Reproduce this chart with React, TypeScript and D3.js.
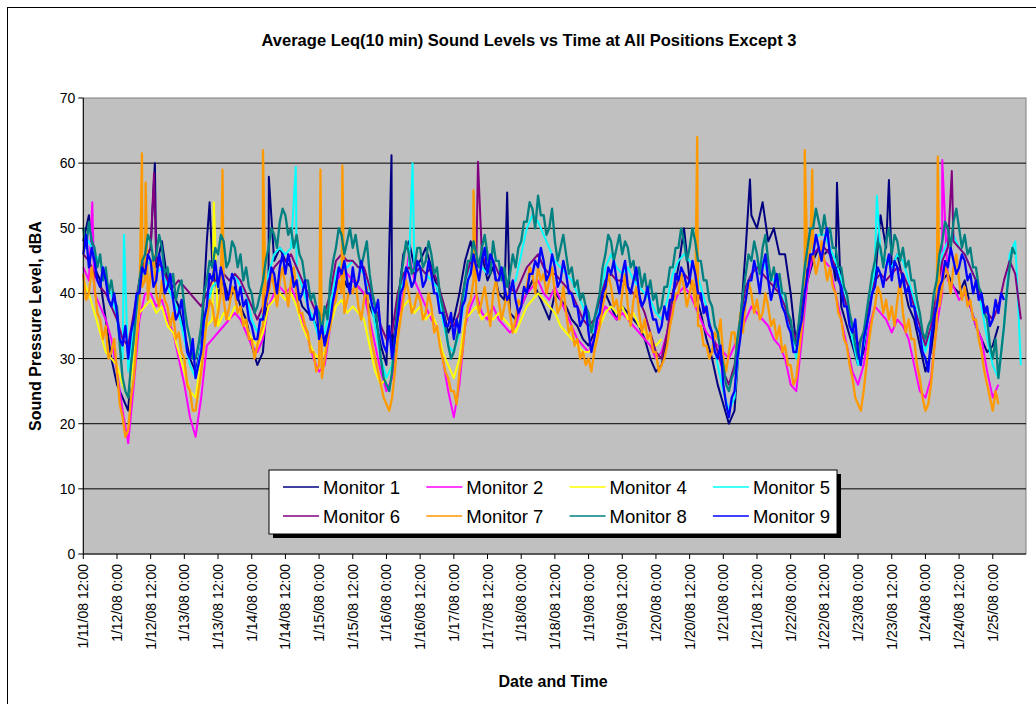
import React from "react";
import * as d3 from "d3";

// Samples start at 1/11/08 12:00.
// Monitors 1-6 are sampled every 2 hours, 7-9 every hour.
const START = new Date(2008, 0, 11, 12, 0);
const END = new Date(2008, 0, 25, 11, 50);

const monitorNames = ["Monitor 1", "Monitor 2", "Monitor 4", "Monitor 5", "Monitor 6", "Monitor 7", "Monitor 8", "Monitor 9"];
const monitorColors = ["#000080", "#FF00FF", "#FFFF00", "#00FFFF", "#800080", "#FF9900", "#008080", "#0000FF"];
const stepHours = [2, 2, 2, 2, 2, 1, 1, 1];
const yTicks = [0, 10, 20, 30, 40, 50, 60, 70];

const m1 = [
  48, 52, 44, 42, 36, 30, 26, 24, 22, 35, 42, 45,
  47, 44, 48, 42, 40, 38, 34, 30, 28, 32, 48, 44,
  40, 42, 39, 41, 38, 36, 32, 29, 31, 42, 45, 47,
  45, 44, 41, 38, 37, 36, 34, 33, 35, 42, 43, 41,
  42, 41, 40, 38, 36, 32, 29, 31, 38, 46, 48, 44,
  45, 47, 44, 41, 38, 34, 36, 40, 45, 48, 44, 46,
  42, 44, 40, 39, 37, 36, 38, 40, 42, 40, 38, 36,
  40, 39, 38, 36, 35, 33, 32, 34, 38, 40, 38, 36,
  38, 37, 36, 35, 33, 30, 28, 29, 33, 40, 44, 50,
  42, 40, 37, 33, 30, 26, 23, 20, 22, 35, 47, 52,
  50, 54, 48, 50, 46, 46, 40, 32, 35, 42, 45, 47,
  46, 47, 42, 38, 35, 32, 29, 31, 38, 42, 52, 47,
  44, 46, 42, 38, 36, 32, 28, 31, 38, 42, 43, 41,
  40, 42, 38, 35, 33, 31, 32, 35,
];
const m2 = [
  44, 42, 40, 38, 36, 33, 28, 22, 17, 26, 36, 40,
  40, 38, 39, 36, 34, 30, 26, 21, 18, 24, 32, 33,
  34, 35, 36, 37, 36, 34, 32, 31, 33, 38, 40, 41,
  40, 41, 39, 36, 33, 30, 28, 29, 35, 41, 44, 43,
  42, 41, 40, 36, 32, 28, 25, 27, 35, 40, 46, 42,
  40, 38, 36, 35, 30, 25, 21, 26, 35, 38, 40, 37,
  36, 38, 36, 35, 34, 35, 38, 40, 41, 42, 40, 39,
  41, 39, 37, 35, 33, 32, 31, 33, 36, 38, 37, 36,
  37, 36, 35, 34, 33, 32, 30, 31, 34, 38, 40, 41,
  40, 38, 36, 34, 33, 32, 31, 30, 32, 34, 36, 38,
  37, 36, 35, 33, 32, 30, 26, 25, 33, 42, 46, 47,
  45, 44, 40, 36, 32, 28, 26, 29, 35, 38, 37, 36,
  34, 36, 35, 33, 29, 25, 24, 27, 35, 40, 42, 41,
  39, 40, 38, 35, 33, 28, 24, 26,
];
const m4 = [
  42, 40, 37, 34, 31, 30, 29, 26, 24, 30, 37, 38,
  39, 37, 38, 35, 34, 31, 28, 25, 24, 30, 35, 36,
  35, 37, 36, 38, 37, 35, 33, 32, 34, 38, 39, 40,
  39, 40, 38, 35, 33, 31, 30, 31, 35, 38, 39, 37,
  38, 37, 36, 32, 28, 26, 27, 29, 35, 38, 39, 37,
  38, 36, 37, 35, 31, 29, 27, 30, 36, 37, 38, 36,
  37, 36, 37, 36, 35, 34, 36, 38, 39, 40, 39, 38,
  37, 35, 34, 33, 32, 31, 31, 32, 35, 37, 38, 37,
  38, 36, 37, 35, 34, 33, 32, 33,
];
const m5 = [
  49, 48, 46, 45, 42, 40, 36, 30, 28, 35, 41, 44,
  45, 43, 44, 41, 39, 37, 33, 29, 27, 32, 38, 41,
  42, 43, 42, 43, 41, 40, 36, 34, 37, 43, 46, 47,
  46, 47, 44, 41, 38, 36, 33, 34, 38, 43, 45, 44,
  45, 44, 43, 40, 35, 30, 27, 29, 37, 43, 44, 43,
  44, 43, 42, 41, 36, 32, 31, 34, 40, 44, 45, 44,
  43, 45, 43, 42, 41, 42, 46, 50, 52, 51, 49, 47,
  45, 44, 43, 42, 40, 38, 35, 34, 38, 44, 46, 44,
  43, 44, 42, 41, 40, 39, 37, 36, 39, 43, 45, 46,
  45, 44, 41, 38, 34, 29, 25, 22, 24, 34, 41, 43,
  44, 45, 43, 42, 41, 38, 34, 30, 38, 45, 48, 49,
  49, 47, 45, 42, 38, 33, 29, 32, 38, 44, 46, 45,
  44, 46, 45, 42, 39, 35, 31, 34, 40, 46, 48, 49,
  47, 46, 44, 42, 38, 33, 29, 27, 35, 46, 48, 29,
];
const m6 = [
  46, 45, 43, 41, 40, 38, 36, 33, 32, 37, 42, 45,
  47, 45, 44, 42, 41, 42, 41, 40, 39, 38, 40, 42,
  42, 43, 42, 43, 42, 40, 38, 36, 38, 42, 44, 45,
  45, 46, 44, 42, 40, 38, 36, 37, 40, 45, 46, 45,
  45, 44, 44, 41, 38, 35, 33, 34, 40, 43, 44, 43,
  44, 43, 44, 42, 39, 36, 35, 37, 42, 45, 44, 46,
  44, 45, 43, 42, 41, 40, 42, 44, 45, 46, 44, 43,
  43, 42, 41, 40, 38, 36, 35, 36, 39, 42, 43, 42,
  42, 41, 40, 39, 37, 34, 31, 30, 34, 40, 42, 43,
  42, 41, 39, 37, 34, 31, 28, 26, 29, 36, 41, 43,
  44, 43, 42, 41, 40, 38, 35, 33, 38, 44, 46, 47,
  47, 46, 44, 41, 38, 35, 32, 34, 38, 42, 43, 42,
  43, 44, 43, 41, 38, 35, 32, 35, 40, 45, 47, 48,
  47, 46, 44, 42, 39, 37, 36, 38, 42, 45, 43, 36,
];
const m7 = [
  43, 39, 40, 44, 41, 37, 36, 33, 35, 30, 31, 33, 28, 23, 21, 18, 19, 24, 27, 33, 38, 41, 42, 39,
  43, 46, 40, 38, 42, 39, 38, 35, 37, 33, 34, 31, 30, 26, 25, 22, 22, 25, 28, 32, 36, 39, 38, 35,
  37, 40, 39, 36, 38, 41, 40, 37, 38, 35, 36, 33, 33, 30, 32, 34, 35, 38, 40, 43, 41, 38, 42, 44,
  41, 38, 42, 44, 40, 37, 37, 35, 34, 31, 31, 28, 29, 27, 30, 33, 35, 38, 39, 42, 40, 37, 39, 41,
  40, 42, 38, 36, 39, 41, 35, 32, 30, 28, 26, 24, 23, 22, 24, 28, 33, 36, 39, 42, 40, 37, 38, 40,
  39, 36, 37, 40, 38, 34, 35, 32, 30, 28, 27, 25, 25, 23, 28, 31, 35, 38, 39, 42, 40, 37, 39, 41,
  38, 35, 40, 42, 39, 36, 38, 40, 37, 34, 36, 39, 38, 41, 41, 44, 43, 40, 44, 42, 43, 40, 42, 44,
  40, 37, 38, 41, 37, 34, 35, 32, 33, 30, 31, 29, 30, 28, 31, 33, 35, 38, 40, 43, 41, 38, 39, 36,
  40, 43, 38, 35, 39, 41, 37, 34, 36, 33, 34, 31, 31, 28, 29, 30, 32, 35, 37, 40, 40, 43, 41, 38,
  40, 42, 38, 35, 35, 32, 32, 30, 31, 34, 33, 36, 30, 28, 31, 34, 34, 30, 37, 34, 39, 42, 40, 37,
  39, 36, 37, 40, 38, 35, 36, 33, 35, 31, 32, 29, 29, 26, 27, 31, 35, 40, 44, 47, 46, 43, 45, 48,
  45, 42, 44, 41, 40, 37, 36, 33, 32, 29, 27, 24, 23, 22, 25, 29, 33, 36, 38, 41, 40, 37, 39, 36,
  38, 35, 39, 42, 37, 34, 36, 33, 33, 29, 27, 24, 22, 23, 26, 31, 35, 38, 41, 44, 43, 40, 44, 46,
  42, 39, 41, 38, 39, 36, 36, 33, 31, 28, 26, 24, 22, 25, 23,
];
const m8 = [
  50, 47, 51, 48, 47, 44, 46, 42, 44, 40, 42, 39, 38, 32, 27, 25, 24, 29, 33, 38, 42, 45, 46, 49,
  48, 45, 46, 49, 47, 43, 44, 41, 43, 39, 41, 42, 38, 35, 33, 30, 30, 32, 35, 40, 42, 45, 44, 47,
  46, 49, 48, 44, 45, 48, 47, 44, 46, 42, 44, 41, 40, 37, 38, 40, 42, 45, 47, 50, 49, 47, 51, 53,
  52, 49, 50, 47, 49, 46, 45, 42, 42, 39, 40, 38, 37, 34, 38, 36, 42, 45, 47, 50, 49, 46, 48, 50,
  47, 49, 46, 44, 46, 48, 43, 40, 38, 34, 30, 27, 26, 25, 28, 33, 38, 42, 45, 48, 46, 43, 44, 47,
  47, 44, 45, 48, 46, 43, 44, 40, 38, 35, 32, 30, 31, 33, 35, 39, 42, 45, 45, 48, 46, 44, 47, 49,
  46, 43, 48, 45, 45, 42, 44, 41, 43, 46, 44, 47, 48, 51, 51, 54, 53, 50, 55, 52, 52, 49, 50, 53,
  48, 45, 47, 49, 46, 43, 44, 41, 42, 39, 40, 38, 37, 34, 36, 38, 40, 44, 46, 49, 48, 45, 47, 49,
  46, 48, 47, 44, 45, 42, 44, 41, 43, 40, 42, 39, 40, 37, 38, 41, 41, 44, 44, 47, 47, 50, 48, 45,
  47, 50, 48, 45, 45, 42, 42, 39, 38, 35, 34, 31, 29, 26, 25, 27, 28, 33, 36, 40, 43, 46, 45, 48,
  46, 43, 47, 49, 45, 42, 44, 41, 43, 40, 40, 37, 36, 33, 32, 36, 40, 44, 47, 50, 50, 53, 51, 49,
  52, 49, 50, 47, 47, 44, 44, 41, 40, 37, 35, 32, 30, 33, 34, 37, 40, 43, 45, 48, 47, 44, 48, 50,
  46, 49, 48, 45, 47, 44, 45, 42, 42, 39, 37, 34, 33, 35, 36, 40, 42, 46, 48, 51, 50, 47, 51, 53,
  50, 47, 49, 46, 47, 44, 44, 41, 40, 37, 36, 32, 30, 33, 27, 31, 35, 40, 44, 47, 46,
];
const m9 = [
  46, 49, 44, 47, 45, 42, 41, 44, 42, 39, 38, 40, 37, 33, 32, 35, 30, 34, 36, 40, 40, 44, 43, 46,
  45, 41, 42, 46, 44, 40, 41, 43, 39, 36, 37, 39, 35, 31, 30, 33, 27, 29, 31, 36, 38, 43, 42, 45,
  41, 44, 42, 39, 40, 43, 42, 39, 41, 38, 39, 36, 35, 33, 33, 36, 36, 39, 41, 44, 43, 40, 44, 46,
  43, 46, 44, 41, 42, 39, 40, 42, 38, 36, 36, 38, 33, 35, 32, 34, 36, 39, 41, 44, 43, 45, 42, 40,
  44, 41, 42, 45, 43, 40, 40, 38, 37, 39, 34, 32, 31, 35, 30, 33, 36, 40, 41, 44, 43, 41, 42, 45,
  44, 41, 42, 45, 43, 40, 40, 37, 37, 35, 35, 37, 33, 36, 34, 38, 39, 42, 43, 46, 44, 42, 45, 47,
  43, 46, 45, 42, 42, 44, 41, 39, 40, 42, 39, 37, 38, 41, 40, 43, 43, 45, 44, 47, 45, 42, 43, 46,
  44, 41, 42, 45, 43, 40, 40, 38, 38, 35, 36, 38, 34, 31, 33, 36, 37, 40, 41, 44, 43, 45, 42, 40,
  43, 45, 41, 40, 42, 44, 40, 38, 39, 41, 38, 36, 36, 34, 35, 38, 36, 39, 39, 43, 42, 44, 43, 41,
  42, 45, 43, 40, 40, 37, 38, 35, 34, 31, 30, 32, 26, 23, 21, 24, 25, 30, 33, 37, 39, 42, 42, 45,
  43, 40, 44, 46, 42, 39, 41, 43, 40, 38, 37, 35, 34, 31, 31, 34, 36, 40, 43, 46, 46, 49, 47, 45,
  48, 50, 46, 44, 44, 42, 41, 38, 38, 35, 34, 36, 31, 29, 33, 35, 37, 40, 41, 44, 43, 41, 44, 46,
  42, 45, 44, 41, 43, 40, 41, 38, 38, 35, 34, 31, 30, 28, 33, 36, 38, 41, 42, 45, 44, 47, 45, 43,
  44, 46, 45, 42, 43, 40, 42, 39, 40, 37, 38, 35, 36, 39, 37, 40, 39,
];

// short spikes: [hours after start, dBA]
const m1Peaks = [[25.5, 60], [45, 54], [66.1, 57.9], [109.8, 61.2], [151, 55.5], [237.5, 57.5], [268.5, 57], [287, 57.4]];
const m2Peaks = [[3.2, 54], [306, 60.5]];
const m4Peaks = [[46.5, 54]];
const m5Peaks = [[14.5, 49], [75.7, 59.4], [117.3, 60], [282.7, 55]];
const m6Peaks = [[25.2, 58.5], [140.6, 60.2], [309.4, 58.8]];
const m7Peaks = [[20.9, 61.5], [22.2, 57], [49.6, 59], [64, 62], [84.5, 59], [92.3, 59.6], [139, 55.8], [218.7, 64], [257, 62], [259.7, 59], [304.4, 61]];
const m8Peaks: number[][] = [];
const m9Peaks: number[][] = [];

const seriesValues = [m1, m2, m4, m5, m6, m7, m8, m9];
const seriesPeaks = [m1Peaks, m2Peaks, m4Peaks, m5Peaks, m6Peaks, m7Peaks, m8Peaks, m9Peaks];

const W = 1036;
const H = 704;
const PL = 83.3;
const PR = 1026;
const PT = 98;
const PB = 554;
const FONT = "'Liberation Sans', Arial, Helvetica, sans-serif";

const x = d3.scaleTime().domain([START, END]).range([PL, PR]);
const y = d3.scaleLinear().domain([0, 70]).range([PB, PT]);
const atHour = (h: number) => new Date(START.getTime() + h * 3600e3);

const xTicks = d3.timeHour.every(12)!.range(START, END);
const fmtTick = (d: Date) =>
  `${d.getMonth() + 1}/${d.getDate()}/08 ${d.getHours()}:${String(d.getMinutes()).padStart(2, "0")}`;

const line = d3.line<{ t: number; v: number }>()
  .x(p => x(atHour(p.t)))
  .y(p => y(p.v));

export default function App() {
  const paths = seriesValues.map((vals, i) => {
    const pts = vals.map((v, k) => ({ t: k * stepHours[i], v }))
      .concat(seriesPeaks[i].map(([t, v]) => ({ t, v })));
    pts.sort((a, b) => a.t - b.t);
    return line(pts) || "";
  });

  const legX = 269, legY = 470, legW = 568, legH = 64;

  return (
    <svg width={W} height={H} style={{ position: "absolute", left: 0, top: 0, background: "#fff" }}>
      <rect x={7.5} y={7.5} width={1100} height={800} fill="#fff" stroke="#000" strokeWidth={1} />

      <text x={529} y={46} textAnchor="middle" fontFamily={FONT} fontSize={16.5} fontWeight="bold">
        Average Leq(10 min) Sound Levels vs Time at All Positions Except 3
      </text>

      {/* plot area */}
      <rect x={PL} y={PT} width={PR - PL} height={PB - PT} fill="#C0C0C0" stroke="#808080" strokeWidth={1} />
      {yTicks.filter(v => v > 0 && v < 70).map(v => (
        <line key={v} x1={PL} x2={PR} y1={y(v)} y2={y(v)} stroke="#000" strokeWidth={1} />
      ))}

      {paths.map((d, i) => (
        <path key={i} d={d} fill="none" stroke={monitorColors[i]} strokeWidth={i >= 5 ? 2.3 : 2} strokeLinejoin="round" />
      ))}

      {/* axes */}
      <line x1={PL} x2={PL} y1={PT} y2={PB} stroke="#000" />
      <line x1={PL} x2={PR} y1={PB} y2={PB} stroke="#000" />
      {yTicks.map(v => (
        <g key={v}>
          <line x1={PL - 5} x2={PL} y1={y(v)} y2={y(v)} stroke="#000" />
          <text x={PL - 8} y={y(v) + 5} textAnchor="end" fontFamily={FONT} fontSize={14}>{v}</text>
        </g>
      ))}
      {xTicks.map(d => (
        <g key={d.getTime()}>
          <line x1={x(d)} x2={x(d)} y1={PB} y2={PB + 5} stroke="#000" />
          <text transform={`translate(${x(d) + 5},${PB + 10}) rotate(-90)`} textAnchor="end"
            fontFamily={FONT} fontSize={14}>{fmtTick(d)}</text>
        </g>
      ))}

      <text transform={`translate(41,${(PT + PB) / 2}) rotate(-90)`} textAnchor="middle"
        fontFamily={FONT} fontSize={16} fontWeight="bold">Sound Pressure Level, dBA</text>
      <text x={553} y={687} textAnchor="middle" fontFamily={FONT} fontSize={16} fontWeight="bold">Date and Time</text>

      {/* legend */}
      <rect x={legX + 4} y={legY + 4} width={legW} height={legH} fill="#000" />
      <rect x={legX} y={legY} width={legW} height={legH} fill="#fff" stroke="#000" strokeWidth={1} />
      {monitorNames.map((name, i) => {
        const col = i % 4;
        const row = Math.floor(i / 4);
        const lx = 283 + col * 143.3;
        const ly = 487 + row * 29;
        return (
          <g key={name}>
            <line x1={lx} x2={lx + 36} y1={ly} y2={ly} stroke={monitorColors[i]} strokeWidth={1.5} />
            <text x={lx + 40} y={ly + 7} fontFamily={FONT} fontSize={18.5}>{name}</text>
          </g>
        );
      })}
    </svg>
  );
}
